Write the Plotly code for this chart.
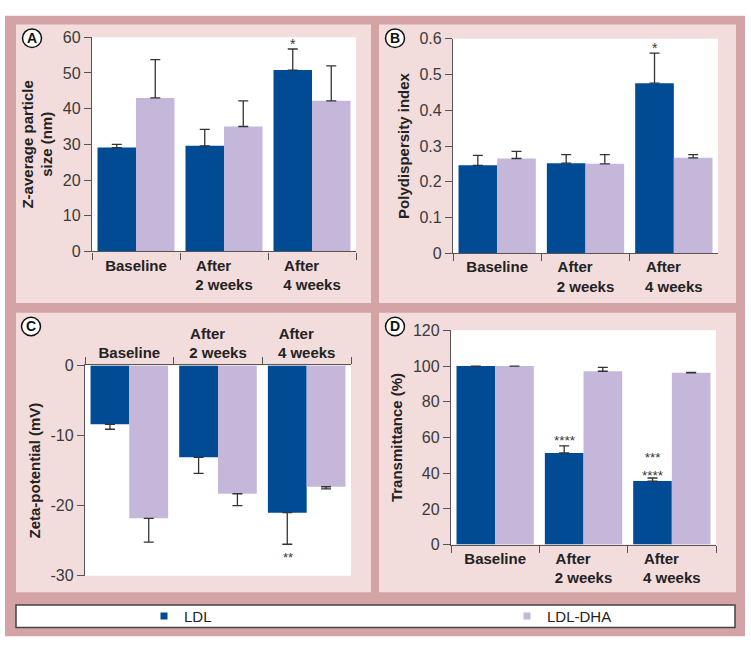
import plotly.graph_objects as go

W, H = 751, 651

# ---------------- data ----------------
categories = ["Baseline", "After 2 weeks", "After 4 weeks"]
tick_labels = ["Baseline",
               "After" + "\u00a0" * 5 + "<br>2 weeks",
               "After" + "\u00a0" * 5 + "<br>4 weeks"]
series_names = ["LDL", "LDL-DHA"]

size_ldl = [29.1, 29.6, 50.8]
size_ldl_err = [0.9, 4.6, 5.9]
size_dha = [43.0, 35.0, 42.2]
size_dha_err = [10.7, 7.2, 9.8]

pdi_ldl = [0.246, 0.252, 0.476]
pdi_ldl_err = [0.028, 0.024, 0.084]
pdi_dha = [0.265, 0.250, 0.267]
pdi_dha_err = [0.020, 0.026, 0.009]

zeta_ldl = [-8.4, -13.1, -21.0]
zeta_ldl_err = [0.7, 2.3, 4.5]
zeta_dha = [-21.8, -18.3, -17.3]
zeta_dha_err = [3.4, 1.7, 0.3]
zeta_tickvals = [-30, -20, -10, 0]
zeta_ticktext = ["-30", "-20", "-10", "0"]

trans_ldl = [100.0, 51.3, 35.6]
trans_ldl_err = [None, 4.0, 1.7]
trans_dha = [100.0, 97.1, 96.2]
trans_dha_err = [None, 2.2, 0.2]

# significance marks over LDL bars (text, value where drawn)
size_sig = ["", "", "*"]
size_sig_y = [None, None, 59.0]
pdi_sig = ["", "", "*"]
pdi_sig_y = [None, None, 0.584]
zeta_sig = ["", "", "**"]
zeta_sig_y = [None, None, -26.9]
trans_sig = ["", "****", "***<br>****"]
trans_sig_y = [None, 59.8, 45.3]

# ---------------- style ----------------
C_LDL = "#004b93"
C_DHA = "#c4b7da"
C_FRAME = "#d4a3a6"
C_PANEL = "#f2dcdc"
C_AXIS = "#555555"
C_ERR = "#333333"
FONT = "Liberation Sans, Arial, sans-serif"


def fx(p):
    return p / W


def fy(p):
    return 1 - p / H


panels = {
    "A": ("x", "y", (92, 356), (30, 250), (32, 31)),
    "B": ("x2", "y2", (453, 718), (31.7, 251.7), (395, 31)),
    "C": ("x3", "y3", (85, 351), (367, 583), (31, 327)),
    "D": ("x4", "y4", (451, 716), (331, 551), (395, 327)),
}

fig = go.Figure()


def add_pair(xa, ya, ldl, ldl_err, dha, dha_err, negative=False):
    for name, vals, err, col in ((series_names[0], ldl, ldl_err, C_LDL),
                                 (series_names[1], dha, dha_err, C_DHA)):
        zeros = [0] * len(err)
        ey = dict(type="data", symmetric=False,
                  array=zeros if negative else err,
                  arrayminus=err if negative else zeros,
                  color=C_ERR, thickness=1.3, width=5, visible=True)
        fig.add_trace(go.Bar(x=categories, y=vals, name=name, marker_color=col,
                             marker_line_width=0, error_y=ey, showlegend=False,
                             xaxis=xa, yaxis=ya))


add_pair("x", "y", size_ldl, size_ldl_err, size_dha, size_dha_err)
add_pair("x2", "y2", pdi_ldl, pdi_ldl_err, pdi_dha, pdi_dha_err)
add_pair("x3", "y3", zeta_ldl, zeta_ldl_err, zeta_dha, zeta_dha_err, negative=True)
add_pair("x4", "y4", trans_ldl, trans_ldl_err, trans_dha, trans_dha_err)

# legend entries
fig.add_trace(go.Scatter(x=[None], y=[None], mode="markers", name=series_names[0],
                         marker=dict(symbol="square", size=7, color=C_LDL),
                         legend="legend"))
fig.add_trace(go.Scatter(x=[None], y=[None], mode="markers", name=series_names[1],
                         marker=dict(symbol="square", size=7, color=C_DHA),
                         legend="legend2"))

shapes = []
shapes.append(dict(type="rect", xref="paper", yref="paper", x0=fx(5), x1=fx(745),
                   y0=fy(645), y1=fy(8), fillcolor=C_FRAME, line_width=0, layer="below"))
for (x0, x1, y0, y1) in [(16, 371, 17, 303), (379, 736, 17, 303),
                         (16, 371, 313, 600), (379, 736, 313, 600)]:
    shapes.append(dict(type="rect", xref="paper", yref="paper", x0=fx(x0), x1=fx(x1),
                       y0=fy(y1), y1=fy(y0), fillcolor=C_PANEL, line_width=0, layer="below"))
shapes.append(dict(type="rect", xref="paper", yref="paper", x0=fx(16), x1=fx(735),
                   y0=fy(636), y1=fy(613), fillcolor="white",
                   line=dict(color="#444444", width=1.5), layer="below"))

annotations = []
layout_axes = {}
titles = {
    "A": "Z-average particle<br>size (nm)",
    "B": "Polydispersity index",
    "C": "Zeta-potential (mV)",
    "D": "Transmittance (%)",
}
yranges = {"A": [0, 60], "B": [0, 0.6], "C": [-30, 0], "D": [0, 120]}
dticks = {"A": 10, "B": 0.1, "C": 10, "D": 20}

for key, (xa, ya, (px0, px1), (py0, py1), (lx, ly)) in panels.items():
    xname = "xaxis" + xa[1:]
    yname = "yaxis" + ya[1:]
    layout_axes[xname] = dict(
        domain=[fx(px0), fx(px1)], anchor=ya, type="category",
        categoryorder="array", categoryarray=categories,
        tickmode="array", tickvals=categories, ticktext=tick_labels,
        range=[-0.5, 2.5], tickson="boundaries", ticks="outside", ticklen=7,
        tickcolor=C_AXIS, tickwidth=1.3, showline=True, linecolor=C_AXIS, linewidth=1.3,
        showgrid=False, zeroline=False, side="top" if key == "C" else "bottom",
        tickfont=dict(family=FONT, size=15, color="#222222", weight="bold"),
        fixedrange=True)
    yax = dict(
        domain=[fy(py1), fy(py0)], anchor=xa, range=yranges[key], dtick=dticks[key],
        ticks="outside", ticklen=7, tickcolor=C_AXIS, tickwidth=1.3,
        showline=True, linecolor=C_AXIS, linewidth=1.3, showgrid=False, zeroline=False,
        tickfont=dict(family=FONT, size=16, color="#3a3a3a"),
        title=dict(text=titles[key], standoff=6,
                   font=dict(family=FONT, size=15, color="#222222", weight="bold")),
        fixedrange=True)
    if key == "C":
        yax.update(tickmode="array", tickvals=zeta_tickvals, ticktext=zeta_ticktext)
    layout_axes[yname] = yax
    shapes.append(dict(type="rect", xref=xa + " domain", yref=ya + " domain",
                       x0=0, x1=1, y0=0, y1=1, fillcolor="white", line_width=0,
                       layer="below"))
    r = 9.5
    shapes.append(dict(type="circle", xref="paper", yref="paper",
                       x0=fx(lx - r), x1=fx(lx + r), y0=fy(ly + r), y1=fy(ly - r),
                       fillcolor="white", line=dict(color="#111111", width=1.5)))
    annotations.append(dict(text=key, xref="paper", yref="paper", x=fx(lx), y=fy(ly),
                            showarrow=False, xanchor="center", yanchor="middle",
                            font=dict(family=FONT, size=14, color="#111111", weight="bold")))

# significance marks
for xa, ya, sig, sig_y, fs in (("x", "y", size_sig, size_sig_y, 14),
                               ("x2", "y2", pdi_sig, pdi_sig_y, 14),
                               ("x3", "y3", zeta_sig, zeta_sig_y, 13),
                               ("x4", "y4", trans_sig, trans_sig_y, 13.5)):
    for cat, t, yv in zip(categories, sig, sig_y):
        if t:
            annotations.append(dict(text=t, x=cat, y=yv, xref=xa, yref=ya,
                                    showarrow=False, xshift=-19, yshift=-3,
                                    borderpad=0,
                                    font=dict(family=FONT, size=fs, color="#333333")))

fig.update_layout(
    width=W, height=H, margin=dict(l=0, r=0, t=0, b=0),
    paper_bgcolor="white", plot_bgcolor="white",
    barmode="group", bargap=0.125, bargroupgap=0,
    shapes=shapes, annotations=annotations,
    font=dict(family=FONT, color="#222222"),
    legend=dict(orientation="h", x=fx(144), y=fy(624.5), xanchor="left", yanchor="middle",
                bgcolor="rgba(0,0,0,0)", borderwidth=0,
                font=dict(family=FONT, size=15, color="#222222")),
    legend2=dict(orientation="h", x=fx(507), y=fy(624.5), xanchor="left", yanchor="middle",
                 bgcolor="rgba(0,0,0,0)", borderwidth=0,
                 font=dict(family=FONT, size=15, color="#222222")),
    **layout_axes,
)

page_fix = (
    "var s=document.createElement('style');"
    "s.textContent='html,body{margin:0 !important;padding:0 !important;overflow:hidden;}';"
    "document.head.appendChild(s);"
)

fig.write_html("out.html", config={"displayModeBar": False}, post_script=page_fix)
